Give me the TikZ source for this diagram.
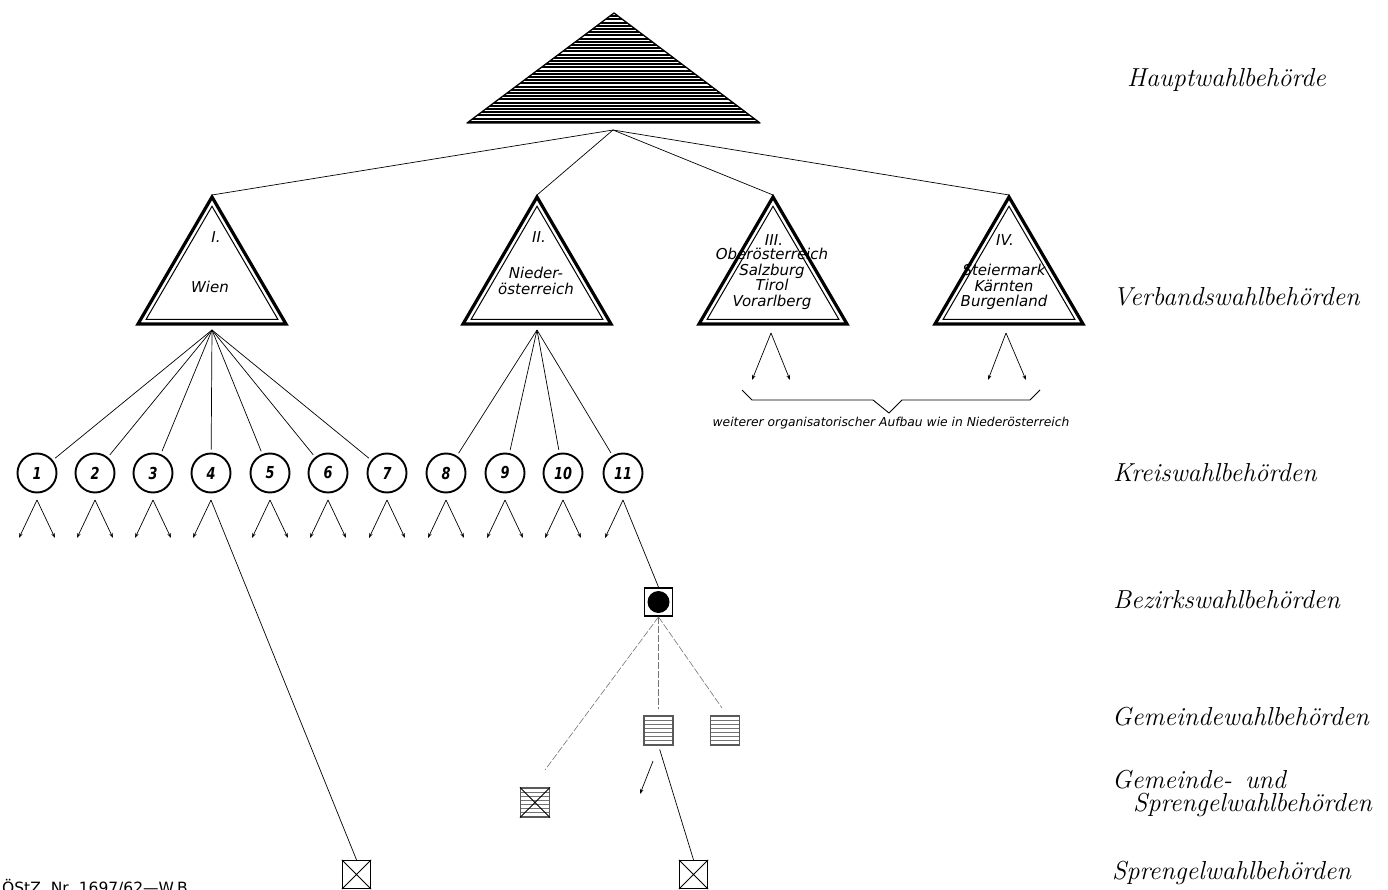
\documentclass[tikz,border=0pt]{standalone}
\usepackage{fontspec}
\newfontfamily\dejavu{DejaVu Sans}
\newfontfamily\dejacond[FakeStretch=0.78]{DejaVu Sans}
\usetikzlibrary{arrows.meta}
\newcommand\vbTri[2]{%
  \draw[line width=3.2pt, line join=miter] (#1,197) -- (#1-74,324) -- (#1+74,324) -- cycle;
  \draw[line width=1pt, scale around={0.89:(#1,281.5)}] (#1,197) -- (#1-74,324) -- (#1+74,324) -- cycle;
  \coordinate (#2top) at (#1,195);
  \coordinate (#2bot) at (#1,330);
}
\begin{document}
\begin{tikzpicture}[x=1pt,y=-1pt,
  every node/.style={inner sep=0pt},
  lab/.style={anchor=west, font=\fontsize{26}{22}\selectfont\itshape, align=left},
  tritext/.style={font=\dejavu\itshape\fontsize{15}{15.5}\selectfont, align=center},
  kreis/.style={circle, draw, line width=1.9pt, minimum size=39pt, font=\dejacond\bfseries\itshape\fontsize{16.5}{16.5}\selectfont},
  conn/.style={line width=0.7pt},
  arr/.style={line width=0.7pt, -{Stealth[length=5pt,width=3.5pt]}},
  faint/.style={line width=0.6pt, black!55, dash pattern=on 7pt off 2pt},
  hsq/.style={draw=black!65, line width=1.2pt, minimum size=29pt,
    path picture={\foreach \k in {1,...,6}{\draw[black!55,line width=0.8pt]
      ([yshift={-4.1pt*\k}]path picture bounding box.north west) -- ([yshift={-4.1pt*\k}]path picture bounding box.north east);}}},
  xsq/.style={draw, line width=1.4pt, minimum size=28pt},
]
\useasboundingbox (0,0) rectangle (1388,890);

% Hauptwahlbehoerde triangle
\begin{scope}
  \clip (614,13) -- (467,123) -- (760,123) -- cycle;
  \foreach \yy in {13,16.2,...,125} \draw[line width=1.9pt] (460,\yy) -- (770,\yy);
\end{scope}
\draw[line width=1.3pt, line join=round] (614,13) -- (467,123) -- (760,123) -- cycle;
\coordinate (Hbot) at (613,130);

% Verbandswahlbehoerden
\vbTri{212}{I}
\vbTri{537}{II}
\vbTri{773}{III}
\vbTri{1009}{IV}
\foreach \t in {I,II,III,IV} \draw[conn] (Hbot) -- (\t top);

\node[tritext] (tI) at (216,237) {I.};
\node[tritext] (tIw) at (210,287) {Wien};
\node[tritext] (tII) at (539,237) {II.};
\node[tritext] (tIIn) at (536,281) {Nieder-\\österreich};
\node[tritext] (tIII) at (774,240) {III.};
\node[tritext] (tIIIn) at (772,279) {Oberösterreich\\Salzburg\\Tirol\\Vorarlberg};
\node[tritext] (tIV) at (1005,240) {IV.};
\node[tritext] (tIVn) at (1004,287) {Steiermark\\Kärnten\\Burgenland};

% arrows under III and IV, brace
\coordinate (a3) at (771,333); \coordinate (a3l) at (752,380); \coordinate (a3r) at (790,380);
\coordinate (a4) at (1006,333); \coordinate (a4l) at (988,380); \coordinate (a4r) at (1026,380);
\draw[arr] (a3) -- (a3l); \draw[arr] (a3) -- (a3r);
\draw[arr] (a4) -- (a4l); \draw[arr] (a4) -- (a4r);
\draw[line width=0.9pt] (742,390) -- (752,400) -- (873,400) -- (889,413) -- (902,400) -- (1030,400) -- (1040,390);
\node[font=\dejavu\itshape\fontsize{12.3}{14}\selectfont] (brace) at (891,423) {weiterer organisatorischer Aufbau wie in Niederösterreich};

% Kreiswahlbehoerden
\foreach \i/\x in {1/37,2/95,3/153,4/211,5/270,6/328,7/387,8/446,9/505,10/563,11/623}{
  \node[kreis] (k\i) at (\x,473) {\i};
  \coordinate (v\i) at (\x,500);
  \coordinate (vl\i) at (\x-18,538);
  \coordinate (vr\i) at (\x+18,538);
  \draw[arr] (v\i) -- (vl\i);
}
\foreach \i in {1,2,3,5,6,7,8,9,10} \draw[arr] (v\i) -- (vr\i);
\foreach \i in {1,...,7} \draw[conn, shorten >=3pt] (Ibot) -- (k\i);
\foreach \i in {8,...,11} \draw[conn, shorten >=3pt] (IIbot) -- (k\i);

% Bezirkswahlbehoerde
\node[draw, line width=1.8pt, minimum size=28pt] (bez) at (658.5,602) {};
\fill (bez.center) circle (11);
\draw[conn] (v11) -- (bez.north);

% Gemeindewahlbehoerden
\node[hsq] (gm) at (658.5,730.5) {};
\node[hsq] (gr) at (725,730.5) {};
\node[hsq] (gs) at (535,802.5) {};
\draw[line width=0.9pt] (gs.north west) -- (gs.south east) (gs.north east) -- (gs.south west);
\coordinate (f1) at (545,770);
\coordinate (f3) at (722,708);
\draw[faint] (bez.south) -- (f1);
\draw[faint, shorten >=6pt] (bez.south) -- (gm.north);
\draw[faint] (bez.south) -- (f3);
\coordinate (gma) at (653,761); \coordinate (gmb) at (640,794);
\draw[arr] (gma) -- (gmb);

% Sprengelwahlbehoerden
\node[xsq] (sp1) at (356.5,874.5) {};
\node[xsq] (sp2) at (693.5,874.5) {};
\foreach \s in {sp1,sp2} \draw[line width=0.8pt] (\s.north west) -- (\s.south east) (\s.north east) -- (\s.south west);
\draw[conn] (v4) -- (sp1.north);
\draw[conn, shorten <=4pt] (gm.south) -- (sp2.north);

% labels
\node[lab] (L1) at (1127,80) {Hauptwahlbehörde};
\node[lab] (L2) at (1113,297) {Verbandswahlbehörden};
\node[lab] (L3) at (1113,473) {Kreiswahlbehörden};
\node[lab] (L4) at (1113,600) {Bezirkswahlbehörden};
\node[lab] (L5) at (1112,717) {Gemeindewahlbehörden};
\node[lab] (L6a) at (1112,780) {Gemeinde-\enspace und};
\node[lab] (L6b) at (1133,805) {Sprengelwahlbehörden};
\node[lab] (L7) at (1112,873) {Sprengelwahlbehörden};

\node[anchor=base west, font=\dejavu\fontsize{15.5}{16}\selectfont] (ref) at (2,893) {ÖStZ. Nr. 1697/62—W.B.};
\end{tikzpicture}
\end{document}
